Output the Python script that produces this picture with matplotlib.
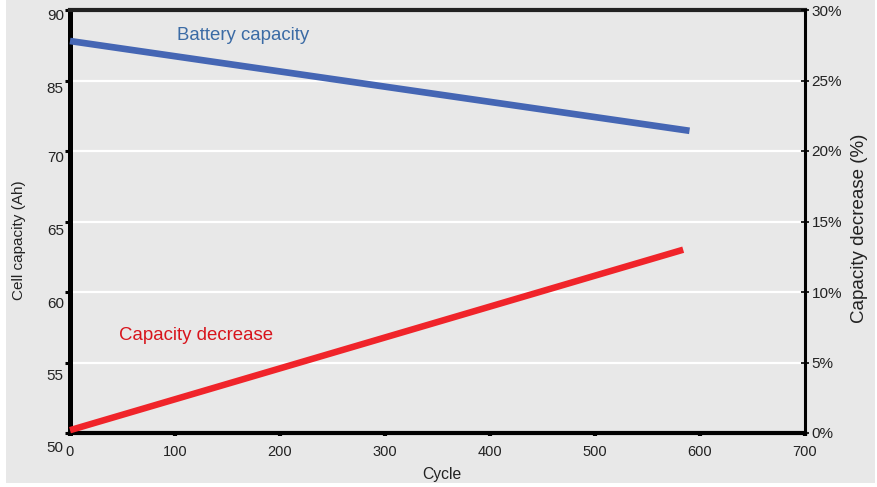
import numpy as np
import matplotlib
matplotlib.use("Agg")
import matplotlib.pyplot as plt
from matplotlib.patches import Rectangle
from matplotlib.transforms import ScaledTranslation

plt.rcParams['font.family'] = ['Liberation Sans', 'DejaVu Sans']

# ---- data ----
left_tick_values = [50, 55, 60, 65, 70, 85, 90]
left_tick_labels = ['50', '55', '60', '65', '70', '85', '90']
right_tick_values = [0, 5, 10, 15, 20, 25, 30]
right_tick_labels = ['0%', '5%', '10%', '15%', '20%', '25%', '30%']
x_ticks = [0, 100, 200, 300, 400, 500, 600, 700]

battery_cycles = [0, 590]
battery_capacity_ah = [87.8, 74.3]
decrease_cycles = [0, 584]
capacity_decrease_pct = [0.2, 13.0]

bg = '#E8E8E8'
fig = plt.figure(figsize=(8.77, 4.87), dpi=100, facecolor='white')
fig.patches.append(Rectangle((6/877, 4/487), 869/877, 483/487, transform=fig.transFigure,
                             facecolor=bg, edgecolor='none', zorder=-10))

L, R, B, T = 70/877, 805/877, (487-433)/487, (487-10)/487
ax = fig.add_axes([L, B, R-L, T-B])
ax.set_facecolor(bg)

positions = np.arange(len(left_tick_values), dtype=float)
def fwd(v):
    return np.interp(v, left_tick_values, positions)
def inv(p):
    return np.interp(p, positions, left_tick_values)
ax.set_yscale('function', functions=(fwd, inv))
ax.set_ylim(50, 90)
ax.set_xlim(0, 700)
ax.set_yticks(left_tick_values, left_tick_labels)
ax.set_xticks(x_ticks, [str(v) for v in x_ticks])
ax.yaxis.grid(True, color='white', lw=1.6)
ax.set_axisbelow(True)

ax2 = ax.twinx()
ax2.set_ylim(0, 30)
ax2.set_yticks(right_tick_values, right_tick_labels)
ax2.patch.set_visible(False)

for a in (ax, ax2):
    for s in a.spines.values():
        s.set_visible(False)
ax.spines['left'].set_visible(True); ax.spines['left'].set_linewidth(3.6); ax.spines['left'].set_color('black')
ax.spines['bottom'].set_visible(True); ax.spines['bottom'].set_linewidth(3.0); ax.spines['bottom'].set_color('black')
ax.spines['top'].set_visible(True); ax.spines['top'].set_linewidth(3.0); ax.spines['top'].set_color('#222222')
ax2.spines['right'].set_visible(True); ax2.spines['right'].set_linewidth(2.2); ax2.spines['right'].set_color('black')

ax.tick_params(axis='y', direction='out', length=3.5, width=2.2, pad=1, labelsize=11, labelcolor='#222222')
ax.tick_params(axis='x', direction='out', length=2.5, width=3, pad=6, labelsize=10.5, labelcolor='#222222')
ax2.tick_params(axis='y', direction='inout', length=5.5, width=1.2, pad=2, labelsize=11, labelcolor='#222222')

# left tick labels sit slightly below their ticks (pixel offsets)
label_drop_px = [14, 12, 10, 8, 6, 7, 4]
for t, d in zip(ax.yaxis.get_major_ticks(), label_drop_px):
    t.label1.set_transform(t.label1.get_transform() + ScaledTranslation(0, -d/100, fig.dpi_scale_trans))

ax.plot(battery_cycles, battery_capacity_ah, color='#4566B4', lw=4.8, solid_capstyle='butt', zorder=3, clip_on=False)
ax2.plot(decrease_cycles, capacity_decrease_pct, color='#F0242A', lw=4.7, solid_capstyle='butt', zorder=3, clip_on=False)

ax2.text(102, 28.16, 'Battery capacity', color='#3B6BA5', fontsize=13.4, va='center', ha='left')
ax2.text(47, 6.95, 'Capacity decrease', color='#D8141C', fontsize=13.4, va='center', ha='left')

ax.set_xlabel('Cycle', fontsize=11.3, color='#222222')
ax.xaxis.set_label_coords(0.506, -0.081)
ax.set_ylabel('Cell capacity (Ah)', fontsize=11, color='#222222')
ax.yaxis.set_label_coords(-0.060, 0.456)
ax2.set_ylabel('Capacity decrease (%)', fontsize=13.5, color='#222222', rotation=90)
ax2.yaxis.set_label_coords(1.0625, 0.485)

fig.savefig('out.png', dpi=100, facecolor='white')
